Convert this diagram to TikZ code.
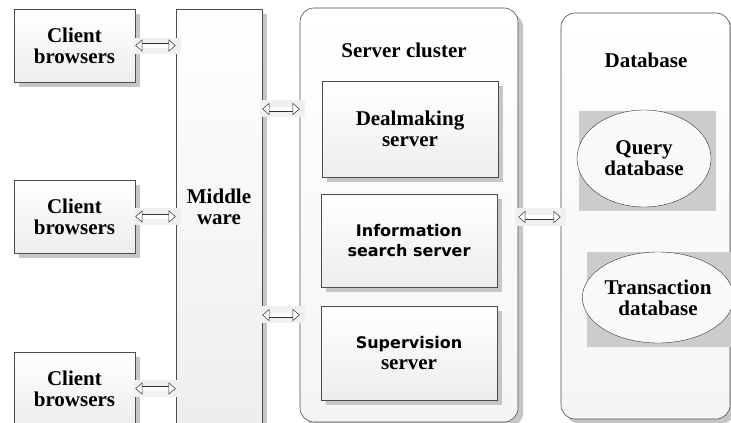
\documentclass[tikz,border=0pt]{standalone}
\usepackage{fontspec}
\setmainfont{Liberation Serif}
\newfontfamily\versans{DejaVu Sans}
\usetikzlibrary{positioning}
\usetikzlibrary{shapes.geometric, shadows, arrows.meta}

\begin{document}
\begin{tikzpicture}[x=1pt, y=-1pt,
  caja/.style={draw=gray!60!black, line width=0.6pt, top color=white, bottom color=gray!14,
    drop shadow={shadow xshift=5pt, shadow yshift=-5pt, fill=gray!45, opacity=1},
    inner sep=0pt, align=center, font=\fontsize{21}{21}\selectfont\bfseries},
  grupo/.style={caja, rounded corners=14pt, bottom color=gray!8},
  texto/.style={align=center, font=\fontsize{21}{21}\selectfont\bfseries},
  flecha/.style={double=white, double distance=4pt, line width=0.5pt, draw=gray!40!black,
    {Triangle[open, length=7pt, width=12pt, fill=white]}-{Triangle[open, length=7pt, width=12pt, fill=white]}},
  fondo/.style={fill=gray!12, draw=none}]

  \clip (0,0) rectangle (731,423);

  % Navegadores
  \node[caja, minimum width=121pt, minimum height=73pt] (cb1) at (74.5,45.5) {Client\\browsers};
  \node[caja, minimum width=121pt, minimum height=73pt] (cb2) at (74.5,216.5) {Client\\browsers};
  \node[caja, minimum width=121pt, minimum height=73pt] (cb3) at (74.5,388.5) {Client\\browsers};

  % Middleware
  \node[caja, minimum width=86pt, minimum height=431pt] (mw) at (219,224.5) {};
  \node[texto] (mwl) at (219,207) {Middle\\ware};

  % Cluster de servidores
  \node[grupo, minimum width=218pt, minimum height=414pt] (sc) at (409,215) {};
  \node[texto] (scl) at (404,50) {Server cluster};
  \node[caja, minimum width=176pt, minimum height=96pt] (dm) at (410,129) {Dealmaking\\server};
  \node[caja, minimum width=176pt, minimum height=93pt,
    font=\fontsize{16}{20}\selectfont\versans\bfseries] (is) at (409,240.5) {Information\\search server};
  \node[caja, minimum width=176pt, minimum height=94pt] (sv) at (409,353)
    {{\fontsize{16}{20}\selectfont\versans\bfseries Supervision}\\server};

  % Base de datos
  \node[grupo, minimum width=169pt, minimum height=406pt] (db) at (645.5,216) {};
  \node[texto] (dbl) at (646,60) {Database};
  \fill[gray!40] (579,111) rectangle (716,211);
  \fill[gray!40] (587,252) rectangle (731,347);
  \node[ellipse, draw=gray!40!black, fill=gray!5, minimum width=134pt, minimum height=97pt,
    inner sep=0pt, texto] (qd) at (644,158.5) {Query\\database};
  \node[ellipse, draw=gray!40!black, fill=gray!5, minimum width=144pt, minimum height=91pt,
    inner sep=0pt, texto] (td) at (658,297.5) {Transaction\\database};

  % Flechas
  \coordinate (m1) at (0,109);
  \coordinate (m2) at (0,315);
  \coordinate (m3) at (0,217);
  \fill[fondo] (134,38) rectangle (181,54);
  \fill[fondo] (134,208) rectangle (181,225);
  \fill[fondo] (134,380) rectangle (181,397);
  \fill[fondo] (260,100) rectangle (305,117);
  \fill[fondo] (258,306) rectangle (305,323);
  \fill[fondo] (515,208) rectangle (566,226);
  \draw[flecha] (cb1.east) -- (cb1.east -| mw.west);
  \draw[flecha] (cb2.east) -- (cb2.east -| mw.west);
  \draw[flecha] (cb3.east) -- (cb3.east -| mw.west);
  \draw[flecha] (mw.east |- m1) -- (sc.west |- m1);
  \draw[flecha] (mw.east |- m2) -- (sc.west |- m2);
  \draw[flecha] (sc.east |- m3) -- (db.west |- m3);

\end{tikzpicture}
\end{document}
